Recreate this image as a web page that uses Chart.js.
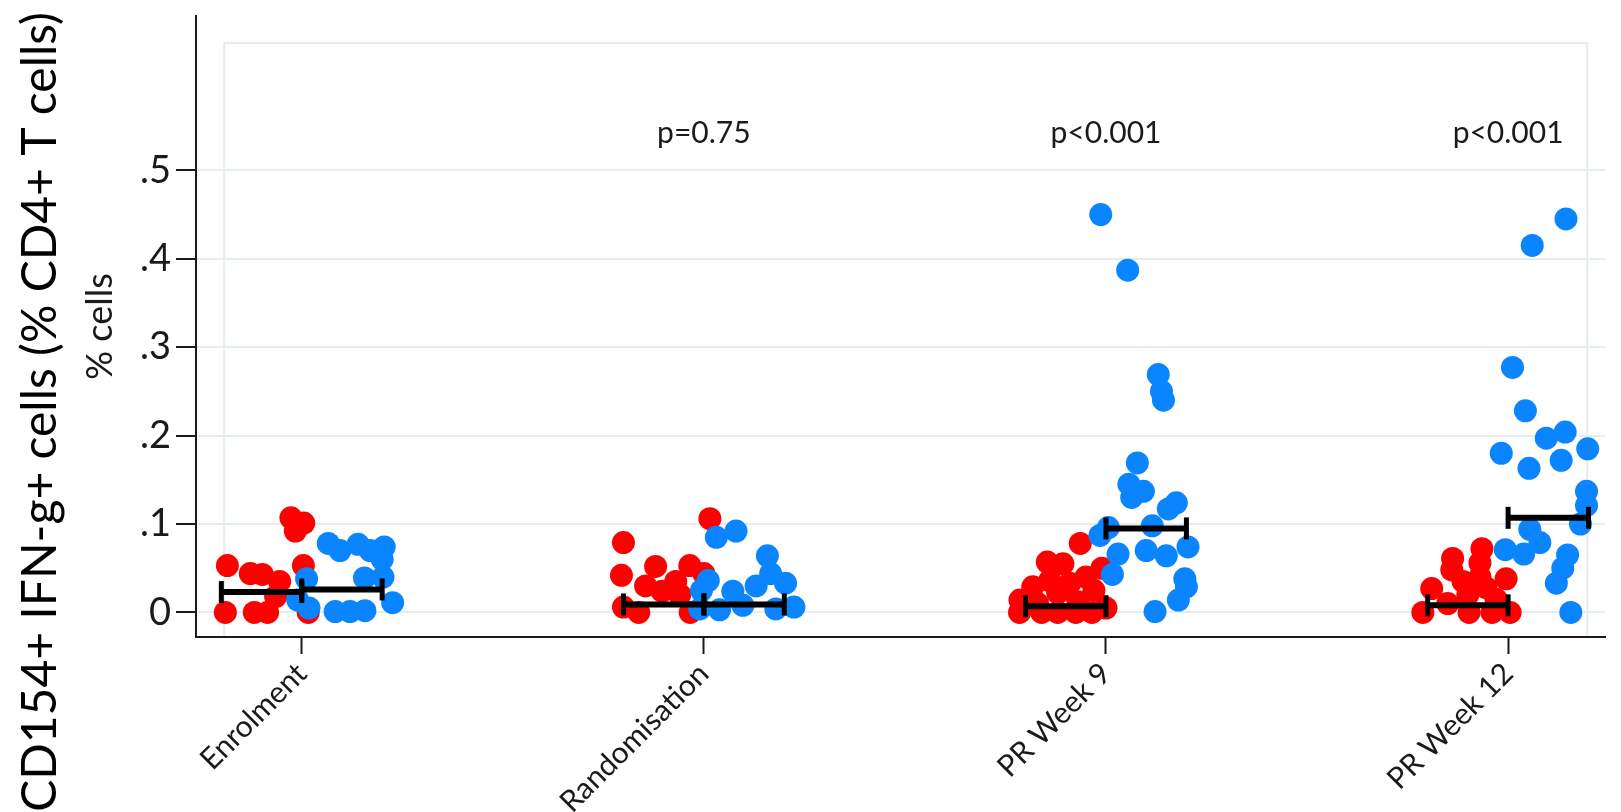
<!DOCTYPE html>
<html>
<head>
<meta charset="utf-8">
<script src="https://cdn.jsdelivr.net/npm/chart.js@4.4.1/dist/chart.umd.min.js"></script>
<style>
  html, body { margin: 0; padding: 0; background: #ffffff; }
  #c { display: block; }
</style>
</head>
<body>
<canvas id="c" width="1621" height="812"></canvas>
<script>
// Time points along the x axis
const categories = ['Enrolment', 'Randomisation', 'PR Week 9', 'PR Week 12'];

// Red group: values (% cells) and horizontal jitter within each time point
const redValues = [
  [0.107, 0.101, 0.092, 0.053, 0.044, 0.043, 0.035, 0.018, 0.053, 0, 0, 0, 0],
  [0.106, 0.079, 0.042, 0.052, 0.053, 0.044, 0.035, 0.030, 0.024, 0.006, 0, 0, 0.020],
  [0.078, 0.057, 0.055, 0.050, 0.040, 0.036, 0.033, 0.029, 0.025, 0.022, 0.014, 0.012, 0.010, 0.005, 0, 0, 0, 0, 0],
  [0.072, 0.061, 0.048, 0.056, 0.040, 0.038, 0.027, 0.035, 0.028, 0.020, 0.015, 0, 0, 0, 0, 0.010]
];
const redJitter = [
  [-0.027, 0.005, -0.016, -0.185, -0.128, -0.098, -0.055, -0.065, 0.004, -0.19, -0.118, -0.085, 0.016],
  [0.015, -0.2, -0.205, -0.12, -0.035, 0.0, -0.07, -0.145, -0.104, -0.2, -0.162, -0.034, -0.06],
  [-0.064, -0.146, -0.107, -0.01, -0.05, -0.14, -0.09, -0.182, -0.03, -0.12, -0.214, -0.07, -0.17, 0.0, -0.215, -0.16, -0.12, -0.075, -0.035],
  [-0.065, -0.138, -0.14, -0.07, -0.07, -0.005, -0.19, -0.112, -0.055, -0.1, -0.03, -0.212, -0.097, -0.04, 0.005, -0.15]
];

// Blue group: values (% cells) and horizontal jitter within each time point
const blueValues = [
  [0.078, 0.070, 0.077, 0.070, 0.074, 0.060, 0.039, 0.040, 0.038, 0.014, 0.005, 0.001, 0.001, 0.002, 0.011],
  [0.085, 0.092, 0.064, 0.036, 0.025, 0.024, 0.030, 0.044, 0.033, 0.004, 0.003, 0.008, 0.004, 0.006],
  [0.450, 0.387, 0.269, 0.250, 0.240, 0.169, 0.145, 0.137, 0.130, 0.124, 0.117, 0.098, 0.087, 0.096, 0.074, 0.070, 0.064, 0.066, 0.043, 0.038, 0.029, 0.014, 0.001],
  [0.445, 0.415, 0.277, 0.228, 0.197, 0.204, 0.185, 0.180, 0.163, 0.172, 0.137, 0.121, 0.100, 0.094, 0.079, 0.071, 0.066, 0.065, 0.050, 0.033, 0]
];
const blueJitter = [
  [0.066, 0.095, 0.14, 0.17, 0.205, 0.2, 0.156, 0.202, 0.012, -0.01, 0.018, 0.083, 0.12, 0.157, 0.226],
  [0.031, 0.08, 0.158, 0.011, -0.006, 0.072, 0.13, 0.166, 0.203, -0.01, 0.039, 0.097, 0.179, 0.224],
  [-0.013, 0.054, 0.13, 0.138, 0.143, 0.078, 0.057, 0.093, 0.064, 0.175, 0.155, 0.115, -0.015, 0.006, 0.204, 0.1, 0.15, 0.03, 0.016, 0.196, 0.2, 0.18, 0.122],
  [0.144, 0.06, 0.011, 0.043, 0.095, 0.142, 0.198, -0.017, 0.052, 0.132, 0.195, 0.195, 0.18, 0.054, 0.079, -0.007, 0.039, 0.148, 0.136, 0.12, 0.156]
];

// Median of each group at each time point
const redMedian = [0.023, 0.009, 0.007, 0.008];
const blueMedian = [0.026, 0.009, 0.095, 0.107];

// Between-group comparison at each time point
const pLabels = ['', 'p=0.75', 'p<0.001', 'p<0.001'];

// y axis ticks
const yTickValues = [0, 0.1, 0.2, 0.3, 0.4, 0.5];
const yTickLabels = ['0', '.1', '.2', '.3', '.4', '.5'];

const RED = '#ff0000';
const BLUE = '#0a84ff';
const INK = '#1a1a1a';
const GRID = '#e6edf0';
const BAND = 0.2;       // half-width of each group's strip
const P_LEVEL = 0.531;  // height of the p-value row

function points(values, jitter) {
  const out = [];
  values.forEach((vals, i) => vals.forEach((v, j) => out.push({ x: i + 1 + jitter[i][j], y: v })));
  return out;
}

function medianSegments(medians, side) {
  const out = [];
  medians.forEach((m, i) => {
    const c = i + 1;
    if (side < 0) { out.push({ x: c - BAND, y: m }, { x: c, y: m }); }
    else { out.push({ x: c, y: m }, { x: c + BAND, y: m }); }
    out.push({ x: c + 0.5, y: null });
  });
  return out;
}

const barStyle = {
  type: 'scatter',
  showLine: true,
  spanGaps: false,
  borderColor: '#000',
  borderWidth: 6,
  pointStyle: 'line',
  rotation: 90,
  pointRadius: 11,
  pointBorderWidth: 5,
  pointBorderColor: '#000',
  pointBackgroundColor: '#000',
  order: 0
};

// Light plot-region frame and p-value row
const decorations = {
  id: 'decorations',
  beforeDatasetsDraw(chart) {
    const { ctx, scales: { x, y } } = chart;
    const l = x.getPixelForValue(0.807), r = x.getPixelForValue(4.197);
    const t = y.getPixelForValue(0.644), b = y.getPixelForValue(-0.026);
    ctx.save();
    ctx.strokeStyle = GRID;
    ctx.lineWidth = 2;
    ctx.beginPath();
    ctx.moveTo(l, b); ctx.lineTo(l, t); ctx.lineTo(r, t); ctx.lineTo(r, b);
    ctx.stroke();
    ctx.restore();
  },
  afterDatasetsDraw(chart) {
    const { ctx, scales: { x, y } } = chart;
    ctx.save();
    ctx.fillStyle = INK;
    ctx.font = '30px Lato';
    ctx.textAlign = 'center';
    ctx.textBaseline = 'alphabetic';
    pLabels.forEach((txt, i) => {
      if (txt) ctx.fillText(txt, x.getPixelForValue(i + 1), y.getPixelForValue(P_LEVEL));
    });
    ctx.restore();
  }
};

new Chart(document.getElementById('c'), {
  type: 'scatter',
  data: {
    datasets: [
      Object.assign({ data: medianSegments(redMedian, -1) }, barStyle),
      Object.assign({ data: medianSegments(blueMedian, 1) }, barStyle),
      { data: points(blueValues, blueJitter), backgroundColor: BLUE, borderWidth: 0, pointRadius: 11.5, order: 1 },
      { data: points(redValues, redJitter), backgroundColor: RED, borderWidth: 0, pointRadius: 11.5, order: 2 }
    ]
  },
  options: {
    responsive: false,
    devicePixelRatio: 1,
    animation: false,
    events: [],
    layout: { padding: { top: 12, left: 0, right: 0, bottom: 0 } },
    plugins: {
      legend: { display: false },
      tooltip: { enabled: false },
      title: {
        display: true,
        position: 'left',
        text: 'CD154+ IFN-g+ cells (% CD4+ T cells)',
        color: '#000',
        font: { family: 'Lato', size: 48, weight: 'normal' },
        padding: { top: 12, bottom: 4 }
      }
    },
    scales: {
      x: {
        type: 'linear',
        min: 0.737,
        max: 4.241,
        afterBuildTicks(scale) { scale.ticks = categories.map((c, i) => ({ value: i + 1 })); },
        afterFit(scale) { scale.height = 175; scale.paddingLeft = 0; scale.paddingRight = 0; },
        grid: { drawOnChartArea: false, tickLength: 17, tickColor: INK, tickWidth: 2 },
        border: { display: true, color: INK, width: 2 },
        ticks: {
          autoSkip: false,
          minRotation: 45,
          maxRotation: 45,
          padding: 2,
          color: INK,
          font: { family: 'Lato', size: 30 },
          callback: (v) => categories[Math.round(v) - 1]
        }
      },
      y: {
        type: 'linear',
        min: -0.0278,
        max: 0.6745,
        afterBuildTicks(scale) { scale.ticks = yTickValues.map(v => ({ value: v })); },
        afterFit(scale) { scale.width = 122.4; scale.paddingTop = 0; scale.paddingBottom = 0; },
        grid: { color: GRID, lineWidth: 2, tickLength: 20, tickColor: INK, tickWidth: 2 },
        border: { display: true, color: INK, width: 2 },
        title: {
          display: true,
          text: '% cells',
          color: INK,
          font: { family: 'Lato', size: 36 },
          padding: { top: 5, bottom: 0 }
        },
        ticks: {
          padding: 5,
          color: INK,
          font: { family: 'Lato', size: 38 },
          callback: (v) => yTickLabels[yTickValues.findIndex(t => Math.abs(t - v) < 1e-9)]
        }
      }
    }
  },
  plugins: [decorations]
});
</script>
</body>
</html>
